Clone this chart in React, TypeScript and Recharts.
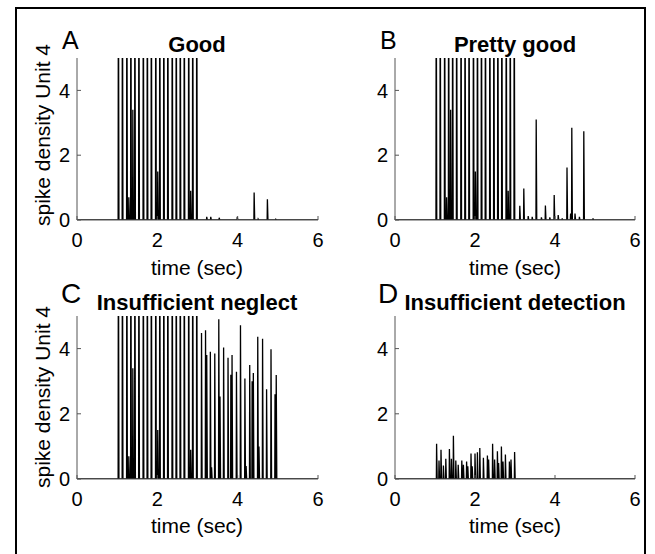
import React from "react";
import { LineChart, Line, XAxis, YAxis } from "recharts";

const FONT = '"Liberation Sans", Arial, Helvetica, sans-serif';
const AXIS = "#555";

// stimulus burst shared by panels A-C (tall spikes run off the top of the axes)
const burstTimes = [1.03, 1.13, 1.24, 1.34, 1.44, 1.54, 1.65, 1.75, 1.85, 1.96, 2.06, 2.16, 2.26, 2.37, 2.47, 2.57, 2.67, 2.78, 2.88, 2.98];
const burstHeights = [9, 9, 9, 9, 9, 9, 9, 9, 9, 9, 9, 9, 9, 9, 9, 9, 9, 9, 9, 9];
const burstExtraTimes = [1.29, 1.39, 2.01, 2.83];
const burstExtraHeights = [0.7, 3.4, 1.5, 0.9];

// A: Good
const goodTailTimes = [3.23, 3.33, 3.54, 3.99, 4.41, 4.51, 4.74, 4.95];
const goodTailHeights = [0.1, 0.1, 0.07, 0.1, 0.85, 0.03, 0.64, 0.02];

// B: Pretty good
const prettyTailTimes = [3.12, 3.22, 3.33, 3.43, 3.53, 3.66, 3.76, 3.87, 3.98, 4.08, 4.18, 4.3, 4.39, 4.42, 4.5, 4.61, 4.72, 4.95];
const prettyTailHeights = [0.44, 0.97, 0.12, 0.1, 3.1, 0.08, 0.45, 0.08, 0.77, 0.15, 0.05, 1.62, 0.2, 2.85, 0.2, 0.1, 2.74, 0.05];

// C: Insufficient neglect
const neglectTailTimes = [3.1, 3.2, 3.32, 3.43, 3.53, 3.65, 3.76, 3.86, 3.97, 4.07, 4.18, 4.3, 4.39, 4.5, 4.62, 4.72, 4.83, 4.96];
const neglectTailHeights = [4.48, 4.56, 3.9, 3.85, 4.9, 4.03, 3.72, 3.8, 3.29, 4.72, 3.08, 3.5, 3.25, 4.36, 4.3, 2.75, 3.98, 3.19];
const neglectExtraTimes = [3.23, 3.35, 3.56, 3.83, 4.21, 4.36, 4.53, 4.93];
const neglectExtraHeights = [3.8, 0.36, 2.53, 3.2, 0.4, 3.0, 1.0, 2.6];

// D: Insufficient detection
const detectTimes = [1.04, 1.1, 1.15, 1.21, 1.27, 1.36, 1.41, 1.46, 1.52, 1.58, 1.67, 1.71, 1.79, 1.82, 1.9, 1.93, 2.0, 2.06, 2.12, 2.21, 2.31, 2.34, 2.44, 2.49, 2.56, 2.59, 2.66, 2.7, 2.76, 2.86, 2.9, 2.99];
const detectHeights = [1.08, 0.57, 0.9, 0.41, 0.62, 0.92, 0.62, 1.33, 0.57, 0.44, 0.57, 0.44, 0.54, 0.39, 0.78, 0.39, 0.78, 0.82, 0.95, 0.65, 0.72, 0.6, 1.08, 0.6, 0.85, 0.49, 1.0, 0.54, 0.75, 0.54, 0.6, 0.83];

const xTicks = [0, 2, 4, 6];
const yTicks = [0, 2, 4];

const RISE = 0.006;
const FALL = 0.014;

// turn spike lists into a spike-density trace
const spikeTrace = (times: number[][], heights: number[][]) => {
  const spikes = times
    .flatMap((ts, k) => ts.map((t, i) => ({ t, h: heights[k][i] })))
    .sort((a, b) => a.t - b.t);
  const pts = [{ t: 0, v: 0 }];
  spikes.forEach((s) => {
    pts.push({ t: s.t - RISE, v: 0 }, { t: s.t, v: s.h }, { t: s.t + FALL, v: 0 });
  });
  pts.push({ t: 6, v: 0 });
  return pts;
};

const dataA = spikeTrace([burstTimes, burstExtraTimes, goodTailTimes], [burstHeights, burstExtraHeights, goodTailHeights]);
const dataB = spikeTrace([burstTimes, burstExtraTimes, prettyTailTimes], [burstHeights, burstExtraHeights, prettyTailHeights]);
const dataC = spikeTrace(
  [burstTimes, burstExtraTimes, neglectTailTimes, neglectExtraTimes],
  [burstHeights, burstExtraHeights, neglectTailHeights, neglectExtraHeights]
);
const dataD = spikeTrace([detectTimes], [detectHeights]);

const YW = 60;
const XH = 40;
const PAD = 10;
const tickStyle = { fill: "#000", fontSize: 20, fontFamily: FONT };
const blank = () => "";

type PanelProps = { left: number; top: number; width: number; height: number; data: { t: number; v: number }[] };

const Panel = ({ left, top, width, height, data }: PanelProps) => (
  <div style={{ position: "absolute", left: left - YW, top: top - PAD }}>
    <LineChart
      width={YW + width + PAD}
      height={PAD + height + XH}
      data={data}
      margin={{ top: PAD, right: PAD, bottom: 0, left: 0 }}
    >
      <XAxis dataKey="t" type="number" domain={[0, 6]} ticks={xTicks} allowDataOverflow height={XH}
        tickSize={-4} tickMargin={17} stroke={AXIS} tick={tickStyle} />
      <XAxis xAxisId="top" orientation="top" type="number" domain={[0, 6]} ticks={xTicks} allowDataOverflow
        height={0} tickSize={-4} tickFormatter={blank} stroke={AXIS} />
      <YAxis type="number" domain={[0, 5]} ticks={yTicks} allowDataOverflow width={YW}
        tickSize={-4} tickMargin={11} stroke={AXIS} tick={tickStyle} />
      <YAxis yAxisId="right" orientation="right" type="number" domain={[0, 5]} ticks={yTicks} allowDataOverflow
        width={0} tickSize={-4} tickFormatter={blank} stroke={AXIS} />
      <Line dataKey="v" type="linear" stroke="#000" strokeWidth={1.3} dot={false} isAnimationActive={false} />
    </LineChart>
  </div>
);

const App = () => {
  const title = { fontFamily: FONT, fontSize: 22, fontWeight: 700, textAnchor: "middle" as const };
  const label = { fontFamily: FONT, fontSize: 21 };
  return (
    <div style={{ position: "absolute", left: 0, top: 0, width: 655, height: 554, background: "#fff", overflow: "hidden" }}>
      <Panel left={77} top={58} width={241} height={162} data={dataA} />
      <Panel left={395} top={58} width={240} height={162} data={dataB} />
      <Panel left={77} top={316} width={241} height={163} data={dataC} />
      <Panel left={395} top={316} width={240} height={163} data={dataD} />
      <svg width={655} height={554} style={{ position: "absolute", left: 0, top: 0, pointerEvents: "none" }}>
        <rect x={16} y={8} width={629} height={560} fill="none" stroke="#000" strokeWidth={2} />
        <text x={62} y={49} fontFamily={FONT} fontSize={25}>A</text>
        <text x={380} y={49} fontFamily={FONT} fontSize={25}>B</text>
        <text x={61} y={303} fontFamily={FONT} fontSize={28}>C</text>
        <text x={378} y={303} fontFamily={FONT} fontSize={28}>D</text>
        <text x={197} y={52} {...title}>Good</text>
        <text x={515} y={52} {...title}>Pretty good</text>
        <text x={197} y={310} {...title}>Insufficient neglect</text>
        <text x={515} y={310} {...title}>Insufficient detection</text>
        <text x={197} y={275} textAnchor="middle" {...label}>time (sec)</text>
        <text x={515} y={275} textAnchor="middle" {...label}>time (sec)</text>
        <text x={197} y={533} textAnchor="middle" {...label}>time (sec)</text>
        <text x={515} y={533} textAnchor="middle" {...label}>time (sec)</text>
        <text transform="translate(50,135) rotate(-90)" textAnchor="middle" {...label}>spike density Unit 4</text>
        <text transform="translate(50,397) rotate(-90)" textAnchor="middle" {...label}>spike density Unit 4</text>
      </svg>
    </div>
  );
};

export default App;
